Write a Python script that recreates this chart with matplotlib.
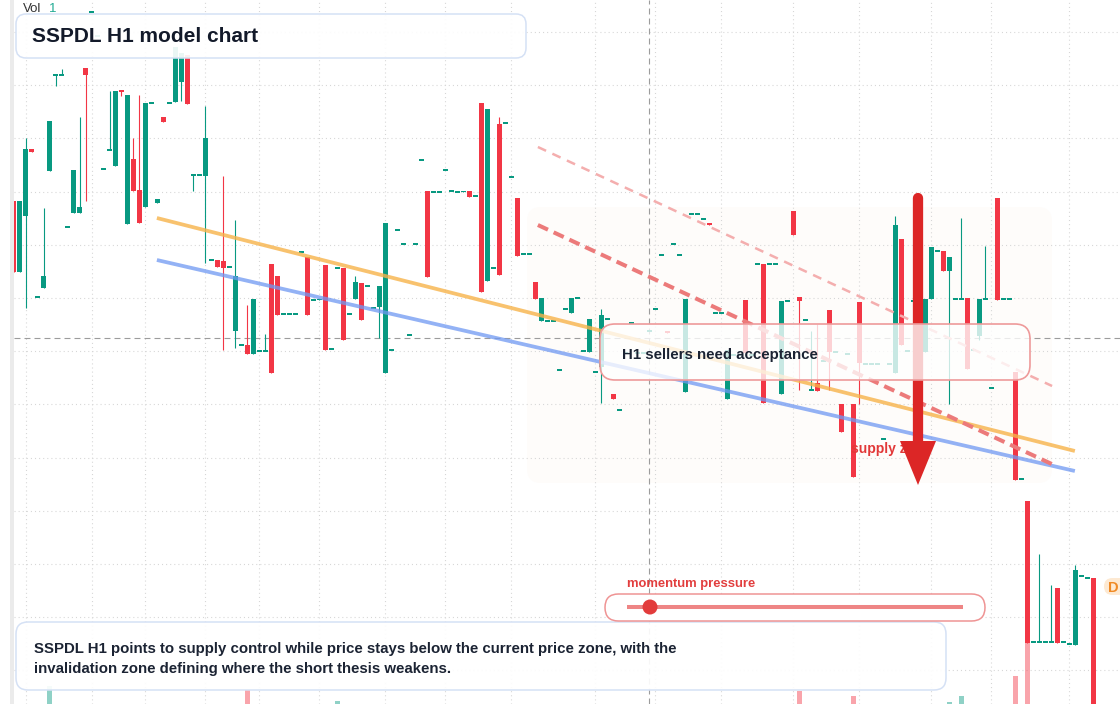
import numpy as np
import matplotlib
matplotlib.use('Agg')
from matplotlib import pyplot as plt
from matplotlib.patches import FancyBboxPatch, Polygon, Circle, Rectangle
from matplotlib.lines import Line2D
import matplotlib.transforms as mtransforms

plt.rcParams['font.family'] = ['Liberation Sans', 'DejaVu Sans']
plt.rcParams['lines.scale_dashes'] = False

# SSPDL H1 candles (price units), one entry per bar
open_ = [80.3, 73.2, 78.8, 85.5, 70.7, 71.6, 83.3, 92.9, 92.9, 77.7,
         79.1, 79.1, 93.6, 99.2, 96.8, 83.5, 85.4, 83.8, 91.4, 78.0,
         84.5, 81.4, 79.7, 90.1, 80.1, 88.7, 90.1, 90.2, 92.2, 94.9,
         82.9, 82.9, 82.8, 74.4, 74.4, 74.3, 73.7, 67.3, 65.9, 65.9,
         65.0, 65.3, 65.3, 74.0, 72.8, 69.0, 69.0, 69.0, 75.2, 74.7,
         70.4, 70.4, 73.9, 65.5, 73.6, 73.6, 69.0, 70.5, 72.1, 71.8,
         69.6, 69.7, 63.1, 65.4, 77.4, 76.0, 66.9, 76.0, 84.4, 81.3,
         81.2, 81.2, 83.4, 81.3, 81.2, 81.2, 81.3, 80.8, 90.1, 72.3,
         73.6, 88.0, 88.1, 82.7, 80.6, 75.0, 75.0, 72.2, 68.3, 68.3,
         68.3, 63.4, 69.5, 69.1, 70.6, 65.3, 65.2, 63.2, 63.7, 68.5,
         61.0, 59.4, 65.1, 68.1, 65.1, 65.1, 67.3, 69.5, 74.9, 67.3,
         76.0, 74.9, 61.2, 79.0, 79.0, 78.5, 78.1, 69.1, 69.1, 60.5,
         64.9, 64.9, 70.4, 64.9, 74.0, 74.0, 74.0, 74.0, 61.0, 70.3,
         79.3, 70.7, 68.4, 61.4, 62.1, 64.3, 69.4, 65.2, 60.0, 65.0,
         60.0, 70.2, 64.0, 64.0, 64.0, 56.5, 64.0, 63.1, 76.5, 65.3,
         70.3, 70.4, 65.2, 70.5, 75.3, 75.3, 73.3, 70.5, 70.5, 70.6,
         65.4, 66.8, 70.5, 61.6, 80.6, 70.5, 70.5, 63.2, 52.5, 50.3,
         36.2, 36.2, 36.2, 36.2, 41.6, 36.2, 36.0, 35.9, 42.8, 42.6,
         42.6]
high = [80.3, 80.3, 86.6, 85.5, 70.7, 79.6, 88.3, 92.9, 93.5, 77.7,
        83.4, 88.7, 93.6, 99.2, 96.8, 83.5, 91.3, 91.3, 91.4, 90.9,
        86.6, 90.9, 90.1, 90.1, 80.5, 88.7, 90.1, 95.7, 95.1, 94.9,
        82.9, 82.9, 89.8, 74.4, 74.4, 82.8, 73.7, 78.4, 65.9, 69.9,
        70.5, 65.3, 67.0, 74.0, 72.8, 69.0, 69.0, 69.0, 75.2, 74.7,
        70.4, 70.5, 73.9, 65.5, 73.6, 73.6, 69.0, 72.8, 72.1, 71.8,
        69.6, 71.8, 78.1, 65.4, 77.4, 76.0, 66.9, 76.0, 84.4, 81.3,
        81.2, 81.2, 83.4, 81.3, 81.2, 81.3, 81.3, 80.8, 90.1, 89.5,
        73.6, 88.7, 88.1, 82.7, 80.6, 75.0, 75.0, 72.2, 70.6, 68.3,
        68.3, 63.4, 69.5, 70.6, 70.6, 65.3, 68.5, 63.2, 69.5, 68.5,
        61.0, 59.4, 65.1, 68.1, 65.1, 65.1, 67.3, 69.5, 74.9, 67.3,
        76.0, 74.9, 70.5, 79.0, 79.0, 78.5, 78.1, 69.1, 69.1, 65.4,
        64.9, 64.9, 70.4, 64.9, 74.0, 74.0, 74.0, 74.0, 70.3, 70.3,
        79.3, 70.7, 68.4, 67.3, 68.0, 64.3, 69.4, 65.2, 60.0, 65.0,
        60.0, 70.2, 64.0, 64.0, 64.0, 56.5, 64.0, 78.8, 76.5, 65.3,
        70.3, 70.4, 70.5, 75.7, 75.3, 75.3, 74.7, 70.5, 78.6, 70.6,
        65.4, 70.5, 75.8, 61.6, 80.6, 70.5, 70.5, 63.2, 52.5, 50.3,
        36.2, 45.0, 36.2, 41.9, 41.6, 36.2, 36.0, 43.9, 42.8, 42.6,
        42.6]
low = [73.2, 73.2, 69.6, 85.2, 70.7, 71.6, 83.3, 91.8, 92.9, 77.7,
       79.1, 79.1, 80.3, 99.2, 96.8, 83.5, 85.4, 83.8, 90.8, 78.0,
       81.3, 78.1, 79.7, 90.1, 80.1, 88.2, 90.1, 90.2, 90.3, 90.0,
       81.3, 82.9, 74.1, 74.4, 73.7, 65.4, 73.7, 65.6, 65.9, 65.0,
       65.0, 65.3, 65.3, 63.1, 68.9, 69.0, 69.0, 69.0, 75.2, 68.9,
       70.4, 70.4, 65.4, 65.5, 73.6, 66.4, 69.0, 70.5, 68.4, 71.8,
       69.6, 66.6, 63.1, 65.4, 77.4, 76.0, 66.9, 76.0, 84.4, 72.7,
       81.2, 81.2, 83.4, 81.3, 81.2, 81.2, 80.7, 80.8, 71.2, 72.3,
       73.6, 72.9, 88.1, 82.7, 74.8, 75.0, 75.0, 70.5, 68.3, 68.3,
       68.3, 63.4, 69.5, 69.1, 70.6, 65.3, 65.2, 63.2, 60.1, 68.5,
       60.5, 59.4, 65.1, 68.1, 65.1, 65.1, 67.3, 69.5, 74.9, 67.1,
       76.0, 74.9, 61.2, 79.0, 79.0, 78.5, 77.9, 69.1, 69.1, 60.5,
       64.9, 64.9, 65.1, 64.9, 74.0, 60.1, 74.0, 74.0, 61.0, 70.3,
       76.9, 61.4, 68.4, 61.4, 61.3, 64.3, 61.4, 65.2, 57.2, 65.0,
       52.7, 60.0, 64.0, 64.0, 64.0, 56.5, 64.0, 63.1, 65.9, 65.3,
       70.3, 70.4, 65.2, 70.5, 75.3, 73.3, 60.0, 70.5, 70.5, 63.5,
       65.4, 66.4, 70.5, 61.6, 70.4, 70.5, 70.5, 52.4, 52.5, 36.1,
       36.2, 36.2, 36.2, 36.2, 36.1, 36.2, 36.0, 35.9, 42.8, 42.6,
       28.8]
close = [73.2, 80.3, 85.5, 85.2, 70.7, 72.8, 88.3, 92.9, 92.9, 77.7,
         83.4, 79.7, 92.9, 99.2, 96.8, 83.5, 85.4, 91.3, 91.2, 90.9,
         81.3, 78.1, 90.1, 90.1, 80.5, 88.2, 90.1, 95.7, 95.1, 90.0,
         82.9, 82.9, 86.6, 74.4, 73.7, 73.6, 73.7, 72.8, 65.9, 65.0,
         70.5, 65.3, 65.3, 63.1, 68.9, 69.0, 69.0, 69.0, 75.2, 68.9,
         70.4, 70.5, 65.4, 65.5, 73.6, 66.4, 69.0, 72.2, 68.4, 71.8,
         69.6, 71.8, 78.1, 65.4, 77.4, 76.0, 66.9, 76.0, 84.4, 72.7,
         81.2, 81.2, 83.4, 81.3, 81.2, 81.3, 80.7, 80.8, 71.2, 89.5,
         73.6, 72.9, 88.1, 82.7, 74.8, 75.0, 75.0, 70.5, 70.6, 68.3,
         68.3, 63.4, 69.5, 70.6, 70.6, 65.3, 68.5, 63.2, 68.9, 68.5,
         60.5, 59.4, 65.1, 68.1, 65.1, 65.1, 67.3, 69.5, 74.9, 67.1,
         76.0, 74.9, 70.5, 79.0, 79.0, 78.5, 77.9, 69.1, 69.1, 65.4,
         64.9, 64.9, 65.1, 64.9, 74.0, 60.1, 74.0, 74.0, 70.3, 70.3,
         76.9, 70.3, 68.4, 61.4, 61.3, 64.3, 65.2, 65.2, 57.2, 65.0,
         52.7, 64.1, 64.0, 64.0, 64.0, 56.5, 64.0, 77.9, 65.9, 65.3,
         70.3, 70.4, 70.5, 75.7, 75.3, 73.3, 74.7, 70.5, 70.5, 63.5,
         65.4, 70.5, 70.5, 61.6, 70.4, 70.5, 70.5, 52.4, 52.5, 36.1,
         36.2, 36.2, 36.2, 36.2, 36.1, 36.2, 36.0, 43.4, 42.8, 42.6,
         28.8]

# volume only shows for a few bars, the rest sit below one pixel
vol_seen = {6: 180, 39: 140, 54: 30, 131: 130, 140: 80, 156: 20,
            158: 80, 167: 280, 169: 610}
volume = [vol_seen.get(i, 0) for i in range(len(close))]

time_ticks = [2, 13, 22, 32, 41, 51, 62, 72, 83, 97, 107, 118, 130, 141, 153, 163, 176]
price_grid = [97.2, 91.88, 86.56, 81.24, 75.92, 70.6, 65.28, 59.96, 54.64,
              49.32, 44.0, 38.68, 33.36]
cross_bar, cross_price = 106, 66.6

# drawn trendlines: (bar, price) end points
upper_trend = ([23.9, 176.9], [78.6, 55.3])
lower_trend = ([23.9, 176.9], [74.4, 53.3])
supply_edge = ([87.4, 173.4], [77.9, 53.9])
outer_edge = ([87.4, 173.1], [85.7, 61.8])

W, H = 1120, 704
fig = plt.figure(figsize=(W / 100, H / 100), dpi=100, facecolor='white')
px = mtransforms.Affine2D().scale(1, -1).translate(0, H).scale(0.01) + fig.dpi_scale_trans

ax = fig.add_axes([14 / W, 0, 1 - 14 / W, 1])
ax.patch.set_visible(False)
ax.set_xlim(0.083, 184.42)
ax.set_ylim(30.0, 100.4)
ax.set_xticks([])
ax.set_yticks([])
for s in ax.spines.values():
    s.set_visible(False)

for t in time_ticks:
    ax.axvline(t, color='#d6d6d6', lw=0.8, ls=(0, (0.75, 2.2)), zorder=0.5)
for p in price_grid:
    ax.axhline(p, color='#d6d6d6', lw=0.8, ls=(0, (0.75, 2.2)), zorder=0.5)
ax.axhline(cross_price, color='#9c9c9c', lw=0.8, ls=(0, (4.3, 2.9)), zorder=1)
ax.axvline(cross_bar, color='#9c9c9c', lw=0.8, ls=(0, (4.3, 2.9)), zorder=1)

o = np.array(open_)
c = np.array(close)
idx = np.arange(len(c))
col = np.where(c >= o, '#089981', '#f23645')
ax.vlines(idx, low, high, colors=col, lw=0.8, zorder=2)
body_lo = np.minimum(o, c)
body_h = np.abs(c - o)
doji = body_h < 0.16
body_lo = np.where(doji, (o + c) / 2 - 0.08, body_lo)
body_h = np.where(doji, 0.16, body_h)
ax.bar(idx, body_h, bottom=body_lo, width=0.8, color=col, lw=0, zorder=2)

ax.plot(*upper_trend, color='#f7b34a', alpha=0.8, lw=2.7, solid_capstyle='butt', zorder=3)
ax.plot(*lower_trend, color='#6f98f2', alpha=0.75, lw=2.7, solid_capstyle='butt', zorder=3)
ax.plot(*outer_edge, color='#f4aeae', lw=1.8, ls=(0, (6.5, 5)), zorder=3)
ax.plot(*supply_edge, color='#ec7a7a', lw=2.9, ls=(0, (8, 4.5)), zorder=3)

ax2 = ax.twinx()
ax2.set_ylim(0, 7040)
ax2.bar(idx, volume, width=0.8, color=col, alpha=0.45, lw=0)
ax2.set_yticks([])
for s in ax2.spines.values():
    s.set_visible(False)

# overlays in pixel space
fig.add_artist(FancyBboxPatch((527, 207), 525, 276, boxstyle='round,pad=0,rounding_size=14',
                              fc='#fefcfa', ec='none', transform=px, zorder=-1))
fig.add_artist(Rectangle((10, 0), 4, H, fc='#ebebeb', ec='none', transform=px, zorder=5))

fig.text(23, 9, 'Vol', transform=px, va='center', fontsize=9.5, color='#333333')
fig.text(49, 9, '1', transform=px, va='center', fontsize=9.5, color='#22ab94')

fig.add_artist(FancyBboxPatch((16, 14), 510, 44, boxstyle='round,pad=0,rounding_size=10',
                              fc=(1, 1, 1, 0.92), ec='#d5e1f5', lw=1.1, transform=px, zorder=5))
fig.text(32, 37, 'SSPDL H1 model chart', transform=px, va='center', fontsize=15,
         fontweight='bold', color='#131a2a', zorder=6)

fig.text(851, 449, 'supply zone', transform=px, va='center', fontsize=10,
         fontweight='bold', color='#e23838', zorder=3.5)
fig.add_artist(Line2D([918, 918], [198, 445], transform=px, lw=7.4, color='#dc2626',
                      solid_capstyle='round', zorder=4))
fig.add_artist(Polygon([[900, 441], [936, 441], [918, 485]], closed=True, fc='#dc2626',
                       ec='none', transform=px, zorder=4))

fig.add_artist(FancyBboxPatch((600, 324), 430, 56, boxstyle='round,pad=0,rounding_size=15',
                              fc=(1, 1, 1, 0.78), ec='#ee9a9a', lw=1.2, transform=px, zorder=6))
fig.text(622, 355, 'H1 sellers need acceptance', transform=px, va='center', fontsize=10.8,
         fontweight='bold', color='#1b2333', zorder=7)

fig.text(627, 584, 'momentum pressure', transform=px, va='center', fontsize=9.4,
         fontweight='bold', color='#e23e3e', zorder=6)
fig.add_artist(FancyBboxPatch((605, 594), 380, 27, boxstyle='round,pad=0,rounding_size=13.5',
                              fc='white', ec='#ef9494', lw=1.1, transform=px, zorder=6))
fig.add_artist(Line2D([627, 963], [607, 607], transform=px, lw=2.9, color='#ee8585',
                      solid_capstyle='butt', zorder=7))
fig.add_artist(Circle((650, 607), 7.5, fc='#e23b3b', ec='none', transform=px, zorder=8))

fig.add_artist(FancyBboxPatch((16, 622), 930, 68, boxstyle='round,pad=0,rounding_size=12',
                              fc=(1, 1, 1, 0.92), ec='#d5e1f5', lw=1.1, transform=px, zorder=5))
fig.text(34, 649, 'SSPDL H1 points to supply control while price stays below the current price zone, with the',
         transform=px, va='center', fontsize=10.8, fontweight='bold', color='#1b2333', zorder=6)
fig.text(34, 669, 'invalidation zone defining where the short thesis weakens.',
         transform=px, va='center', fontsize=10.8, fontweight='bold', color='#1b2333', zorder=6)

fig.add_artist(FancyBboxPatch((1104, 578), 30, 17, boxstyle='round,pad=0,rounding_size=8.5',
                              fc='#fde9d2', ec='none', transform=px, zorder=5))
fig.text(1113, 588, 'D', transform=px, va='center', ha='center', fontsize=10.5,
         fontweight='bold', color='#f08a24', zorder=6)

fig.savefig('out.png', dpi=100)
